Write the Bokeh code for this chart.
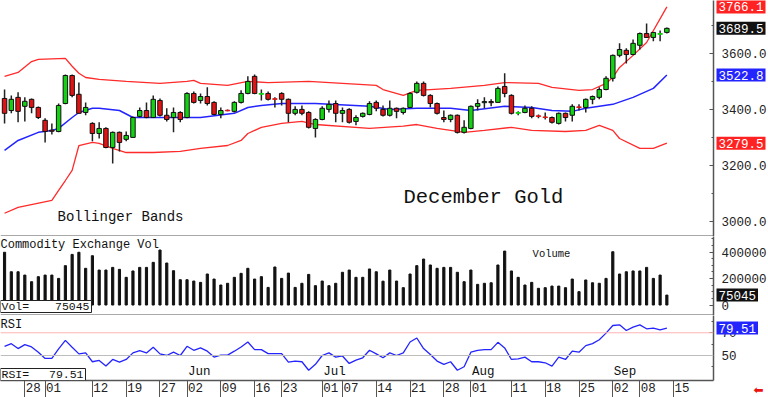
from bokeh.plotting import figure
from bokeh.models import (Range1d, LinearAxis, FixedTicker, Span, Label, ColumnDataSource,
                          NumeralTickFormatter, BoxAnnotation)
from bokeh.layouts import column
from bokeh.embed import file_html
from bokeh.resources import INLINE
from bokeh.core.properties import value

FONT = "Liberation Mono"

# ---------------- data (trading-day index 0 = Apr 23 2025 ... 98 = Sep 12 2025) ----------------
opens = [3439, 3396, 3443, 3411, 3436, 3407, 3361, 3326, 3321, 3421,
         3521, 3454, 3389, 3350, 3314, 3332, 3264, 3318, 3293, 3300,
         3375, 3396, 3371, 3432, 3379, 3371, 3389, 3371, 3457, 3432,
         3446, 3425, 3382, 3397, 3393, 3425, 3457, 3518, 3454, 3457,
         3438, 3457, 3436, 3386, 3400, 3389, 3332, 3364, 3400, 3421,
         3386, 3400, 3357, 3375, 3382, 3425, 3400, 3379, 3404, 3389,
         3407, 3461, 3493, 3450, 3421, 3371, 3364, 3379, 3318, 3332,
         3411, 3424, 3428, 3425, 3482, 3450, 3386, 3389, 3404, 3377,
         3373, 3371, 3350, 3386, 3379, 3409, 3407, 3436, 3443, 3471,
         3511, 3593, 3611, 3596, 3629, 3671, 3657, 3668, 3675]
highs = [3471, 3450, 3461, 3443, 3439, 3410, 3368, 3350, 3421, 3525,
         3525, 3496, 3425, 3354, 3354, 3336, 3321, 3321, 3321, 3375,
         3407, 3425, 3450, 3439, 3404, 3407, 3393, 3461, 3464, 3457,
         3479, 3429, 3407, 3400, 3429, 3468, 3518, 3525, 3471, 3464,
         3443, 3461, 3439, 3411, 3414, 3393, 3368, 3411, 3432, 3432,
         3407, 3404, 3379, 3389, 3429, 3432, 3414, 3432, 3407, 3407,
         3461, 3500, 3500, 3454, 3425, 3396, 3382, 3382, 3361, 3414,
         3436, 3443, 3436, 3482, 3529, 3454, 3393, 3414, 3411, 3382,
         3389, 3375, 3389, 3389, 3418, 3418, 3439, 3450, 3479, 3518,
         3596, 3636, 3618, 3650, 3675, 3707, 3675, 3682, 3693]
lows = [3350, 3386, 3354, 3357, 3386, 3366, 3282, 3310, 3318, 3418,
        3443, 3386, 3379, 3286, 3296, 3261, 3207, 3250, 3286, 3300,
        3371, 3368, 3371, 3375, 3357, 3318, 3354, 3368, 3421, 3421,
        3414, 3379, 3368, 3393, 3389, 3421, 3454, 3454, 3432, 3432,
        3407, 3414, 3354, 3379, 3379, 3332, 3300, 3361, 3389, 3354,
        3354, 3350, 3343, 3371, 3379, 3393, 3375, 3375, 3368, 3382,
        3404, 3457, 3446, 3407, 3382, 3354, 3354, 3314, 3314, 3329,
        3396, 3404, 3411, 3425, 3443, 3382, 3379, 3386, 3368, 3368,
        3364, 3350, 3346, 3357, 3357, 3396, 3389, 3418, 3436, 3468,
        3500, 3586, 3564, 3593, 3614, 3657, 3643, 3643, 3671]
closes = [3386, 3436, 3393, 3429, 3407, 3371, 3321, 3322, 3414, 3521,
          3450, 3386, 3407, 3314, 3332, 3264, 3318, 3282, 3307, 3371,
          3396, 3371, 3436, 3379, 3364, 3389, 3364, 3457, 3425, 3446,
          3421, 3382, 3396, 3395, 3425, 3457, 3500, 3457, 3457, 3436,
          3436, 3436, 3386, 3400, 3386, 3336, 3364, 3404, 3418, 3386,
          3396, 3354, 3371, 3386, 3421, 3404, 3379, 3404, 3393, 3404,
          3457, 3493, 3450, 3421, 3386, 3364, 3379, 3318, 3336, 3411,
          3421, 3428, 3424, 3475, 3457, 3386, 3389, 3404, 3375, 3375,
          3371, 3354, 3386, 3371, 3411, 3407, 3436, 3446, 3471, 3511,
          3593, 3614, 3596, 3636, 3671, 3657, 3675, 3671, 3689.5]

volume = [398000, 251000, 251000, 226000, 176000, 214000, 226000, 226000, 201000, 297000,
          382000, 398000, 277000, 372000, 264000, 264000, 284000, 269000, 209000, 257000,
          284000, 284000, 322000, 415000, 317000, 259000, 191000, 191000, 181000, 171000,
          234000, 196000, 151000, 164000, 209000, 239000, 277000, 196000, 214000, 133000,
          287000, 201000, 241000, 133000, 164000, 231000, 146000, 181000, 146000, 164000,
          247000, 264000, 209000, 209000, 272000, 251000, 180000, 264000, 181000, 131000,
          234000, 297000, 347000, 302000, 277000, 284000, 284000, 247000, 176000, 264000,
          156000, 164000, 168000, 302000, 407000, 257000, 209000, 151000, 171000, 126000,
          131000, 143000, 143000, 131000, 196000, 101000, 189000, 168000, 164000, 201000,
          402000, 234000, 251000, 257000, 257000, 284000, 201000, 226000, 75045]

rsi = [58.1, 60.4, 56.1, 59.6, 57.5, 52.9, 47.4, 47.4, 55.8, 63.3,
       57.2, 51.4, 52.3, 44.5, 45.7, 40.7, 46.5, 44.2, 46.5, 52.3,
       54.3, 52.3, 57.2, 51.4, 50.0, 52.9, 50.0, 58.1, 54.6, 56.7,
       53.8, 48.6, 50.3, 50.3, 53.8, 57.5, 61.9, 55.2, 55.2, 51.7,
       51.7, 51.7, 44.2, 45.1, 44.5, 37.0, 42.2, 50.0, 52.3, 48.6,
       49.6, 43.0, 46.0, 48.0, 54.6, 51.4, 48.0, 52.3, 50.0, 52.3,
       61.9, 65.4, 56.1, 50.9, 45.1, 42.2, 44.5, 37.0, 40.1, 52.9,
       54.6, 55.2, 55.2, 61.6, 56.7, 46.5, 47.1, 48.6, 44.5, 44.5,
       43.6, 40.7, 48.6, 46.5, 53.8, 52.9, 58.7, 60.4, 63.9, 69.7,
       76.4, 77.0, 72.0, 75.0, 77.0, 73.5, 74.1, 72.6, 74.1]
rsi_last = 79.51

upper_idx = [0, 2, 4, 5, 9, 10, 11, 12, 14, 18, 23, 27, 28, 29, 33, 36, 39, 45, 55, 56,
             59, 61, 63, 66, 71, 74, 79, 81, 85, 87, 89, 90, 91, 93, 95, 98]
upper_val = [3518, 3532, 3571, 3579, 3582, 3554, 3529, 3514, 3507, 3500, 3493, 3500, 3504, 3493, 3486,
             3500, 3496, 3500, 3486, 3471, 3450, 3468, 3471, 3475, 3486, 3496, 3493, 3479, 3468, 3471,
             3493, 3514, 3550, 3593, 3639, 3766.1]
mid_idx = [0, 2, 5, 7, 8, 10, 11, 13, 14, 17, 19, 25, 29, 34, 36, 38, 41, 46, 54, 57,
           61, 66, 69, 74, 78, 81, 84, 86, 90, 93, 96, 98]
mid_val = [3254, 3289, 3318, 3325, 3332, 3371, 3389, 3404, 3404, 3396, 3371, 3371, 3371, 3386, 3407,
           3414, 3421, 3421, 3411, 3400, 3404, 3404, 3396, 3411, 3407, 3396, 3393, 3404, 3418, 3443,
           3475, 3522.8]
lower_idx = [0, 2, 7, 8, 9, 10, 11, 13, 14, 16, 18, 22, 26, 29, 33, 35, 36, 38, 41, 44,
             46, 54, 59, 61, 64, 68, 71, 75, 78, 83, 86, 88, 90, 91, 94, 96, 98]
lower_val = [3029, 3050, 3075, 3111, 3146, 3182, 3271, 3282, 3279, 3261, 3246, 3246, 3250, 3261, 3271,
             3289, 3314, 3336, 3350, 3357, 3346, 3332, 3340, 3346, 3332, 3318, 3325, 3336, 3325, 3321,
             3325, 3343, 3325, 3296, 3261, 3261, 3279.5]

tick_idx = [3, 6, 13, 18, 23, 27, 32, 37, 41, 47, 50, 55, 60, 65, 69, 75, 80, 85, 90, 94, 99]
tick_labels = ["28", "01", "12", "19", "27", "02", "09", "16", "23", "01", "07", "14", "21",
               "28", "01", "11", "18", "25", "02", "08", "15"]
month_idx = [27, 47, 69, 90]
month_labels = ["Jun", "Jul", "Aug", "Sep"]

price_ticks = [3000, 3200, 3400, 3600]
vol_ticks = [0, 200000, 400000]
rsi_ticks = [50, 70]

# ---------------- layout constants ----------------
FW = 713
H_PRICE, H_VOL, H_RSI = 236, 79, 65
GREEN, RED, BLUE = "#12d212", "#e01414", "#2424ff"
BORDER = "#555555"

xr = Range1d(-0.6, 104.9)
yr_price = Range1d(2946, 3789)
yr_vol = Range1d(-79000, 517000)
yr_rsi = Range1d(28, 85.2)


def make_fig(h, yr):
    p = figure(x_range=xr, y_range=yr, frame_width=FW, frame_height=h,
               output_backend="svg", toolbar_location=None,
               min_border_left=0, min_border_right=55, min_border_top=0, min_border_bottom=0,
               x_axis_location=None, y_axis_location=None,
               background_fill_color="white", border_fill_color="white")
    p.outline_line_color = None
    p.grid.visible = False
    return p


def right_axis(p, ticks, minor, fmt):
    ax = LinearAxis(ticker=FixedTicker(ticks=ticks, minor_ticks=minor),
                    formatter=NumeralTickFormatter(format=fmt))
    ax.axis_line_color = BORDER
    ax.axis_line_width = 1.5
    ax.major_tick_in = 4
    ax.major_tick_out = 0
    ax.minor_tick_in = 2
    ax.minor_tick_out = 0
    ax.major_tick_line_color = BORDER
    ax.minor_tick_line_color = BORDER
    ax.major_label_text_font = FONT
    ax.major_label_text_font_size = "12.5px"
    ax.major_label_text_color = "#222222"
    ax.major_label_standoff = 8
    p.add_layout(ax, "right")


def axis_box(p, yval, text, bg):
    p.add_layout(Label(x=xr.end, y=yval, x_offset=3, text=text, text_font=FONT,
                       text_font_size="12.5px", text_color="white", text_baseline="middle",
                       text_align="left", background_fill_color=bg, padding=2), "right")


def corner_text(p, x, y, text, size, baseline="top", align="left", **kw):
    p.add_layout(Label(x=x, y=y, x_units="screen", y_units="screen", text=text,
                       text_font=FONT, text_font_size=size, text_color="#111111",
                       text_baseline=baseline, text_align=align, **kw))


def corner_box(p, left, right, bottom, top):
    p.add_layout(BoxAnnotation(left=left, right=right, bottom=bottom, top=top,
                               left_units="screen", right_units="screen",
                               bottom_units="screen", top_units="screen",
                               fill_color="white", fill_alpha=1.0,
                               line_color="#222222", line_width=1, line_alpha=1.0))


# ---------------- price panel ----------------
pp = make_fig(H_PRICE, yr_price)
xs = list(range(len(closes)))
colors = [GREEN if c >= o else RED for o, c in zip(opens, closes)]
edges = ["#111111" if abs(c - o) > 3 else col for o, c, col in zip(opens, closes, colors)]
src = ColumnDataSource(dict(
    x=xs, high=highs, low=lows,
    btop=[max(o, c) for o, c in zip(opens, closes)],
    bbot=[min(o, c) for o, c in zip(opens, closes)],
    color=colors, edge=edges))

pp.line(upper_idx, upper_val, line_color="#ff2a2a", line_width=1.3)
pp.line(lower_idx, lower_val, line_color="#ff2a2a", line_width=1.3)
pp.line(mid_idx, mid_val, line_color=BLUE, line_width=1.5)
pp.segment(x0="x", y0="low", x1="x", y1="high", source=src, line_color="#222222", line_width=1.5)
pp.vbar(x="x", width=0.66, top="btop", bottom="bbot", source=src,
        fill_color="color", line_color="edge", line_width=1)

right_axis(pp, price_ticks, list(range(2900, 3900, 100)), "0.0")
pp.add_layout(Span(location=yr_price.start, dimension="width", line_color=BORDER, line_width=2))
axis_box(pp, upper_val[-1], f"{upper_val[-1]:.1f}", "#ff2222")
axis_box(pp, closes[-1], f"{closes[-1]:.1f}", "#111111")
axis_box(pp, mid_val[-1], f"{mid_val[-1]:.1f}", BLUE)
axis_box(pp, lower_val[-1], f"{lower_val[-1]:.1f}", "#ff2222")
corner_text(pp, 57, 20, "Bollinger Bands", "14px", baseline="middle")
corner_text(pp, 403, 39, "December Gold", "20.5px", baseline="middle")

# ---------------- volume panel ----------------
pv = make_fig(H_VOL, yr_vol)
pv.vbar(x=xs, width=0.32, top=volume, bottom=0, fill_color="#111111", line_color="#111111")
right_axis(pv, vol_ticks, list(range(0, 550000, 50000)), "0")
pv.add_layout(Span(location=yr_vol.start, dimension="width", line_color=BORDER, line_width=2))
axis_box(pv, volume[-1], f"{volume[-1]}", "#111111")
corner_text(pv, 0, H_VOL - 1, "Commodity Exchange Vol", "12px")
corner_text(pv, 551, H_VOL - 17, "Volume", "10.5px", baseline="middle", align="center")
corner_box(pv, 0, 91, 3, 15)
corner_text(pv, 1, 9, "Vol=", "11.5px", baseline="middle")
corner_text(pv, 89, 9, f"{volume[-1]}", "11.5px", baseline="middle", align="right")

# ---------------- RSI panel ----------------
pr = make_fig(H_RSI, yr_rsi)
pr.min_border_bottom = 17
pr.add_layout(Span(location=70, dimension="width", line_color="#ffb4b4", line_width=1))
pr.add_layout(Span(location=50, dimension="width", line_color="#bdbdbd", line_width=1))
pr.line(xs, rsi, line_color=BLUE, line_width=1.3)
right_axis(pr, rsi_ticks, [40, 50, 60, 70, 80], "0")
axis_box(pr, rsi[-1], f"{rsi_last:.2f}", BLUE)
corner_text(pr, 0, H_RSI - 2, "RSI", "12px")
corner_box(pr, 0, 85, 0, 12)
corner_text(pr, 1, 6, "RSI=", "11.5px", baseline="middle")
corner_text(pr, 83, 6, f"{rsi_last:.2f}", "11.5px", baseline="middle", align="right")
pr.text(x=month_idx, y=[yr_rsi.start] * len(month_idx), text=month_labels, x_offset=1, y_offset=-2,
        text_font=value(FONT), text_font_size="12.5px", text_color="#111111",
        text_baseline="bottom", text_align="left")

xa = LinearAxis(ticker=FixedTicker(ticks=[t + 1.25 for t in tick_idx], minor_ticks=tick_idx))
xa.major_label_overrides = {t + 1.25: s for t, s in zip(tick_idx, tick_labels)}
xa.major_tick_line_color = None
xa.major_tick_out = 0
xa.major_tick_in = 0
xa.minor_tick_out = 17
xa.minor_tick_in = 0
xa.minor_tick_line_color = BORDER
xa.axis_line_color = BORDER
xa.axis_line_width = 1.5
xa.major_label_standoff = -15
xa.major_label_text_font = FONT
xa.major_label_text_font_size = "12.5px"
xa.major_label_text_color = "#222222"
pr.add_layout(xa, "below")
pr.add_layout(Label(x=xr.end, y=yr_rsi.start, x_offset=40, y_offset=-9, text="⬅",
                    text_font="DejaVu Sans", text_font_size="12px", text_color="#ee1111",
                    text_baseline="middle", text_align="left"), "right")

layout = column(pp, pv, pr, spacing=0)
open("out.html", "w").write(file_html(layout, INLINE))
